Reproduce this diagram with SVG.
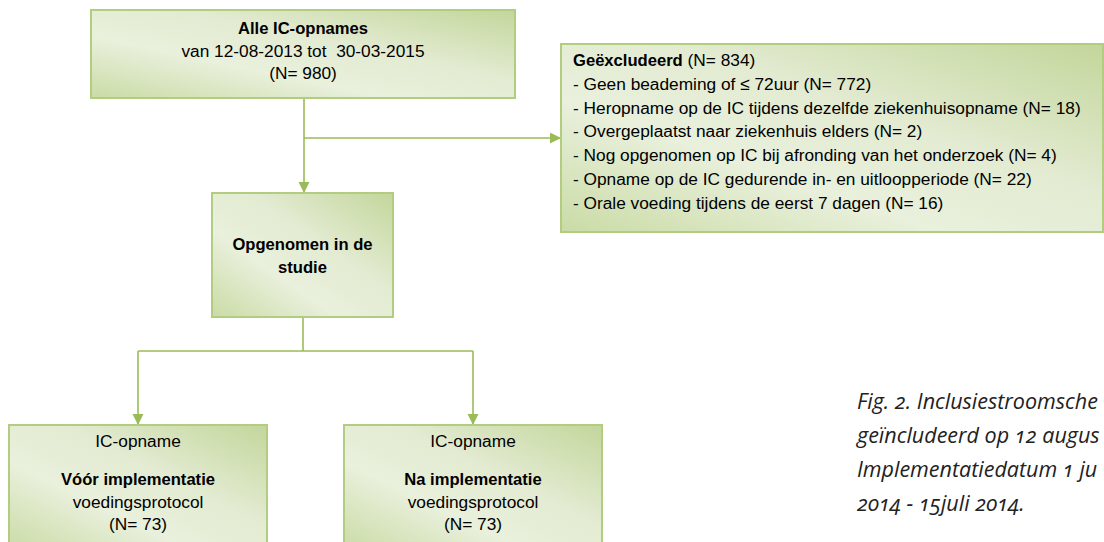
<svg xmlns="http://www.w3.org/2000/svg" width="1104" height="542" viewBox="0 0 1104 542">
<defs>
<linearGradient id="g" x1="0" y1="1" x2="1" y2="0">
<stop offset="0" stop-color="#cadba5"/>
<stop offset="0.35" stop-color="#e9f0dc"/>
<stop offset="0.6" stop-color="#e3ebd2"/>
<stop offset="1" stop-color="#c3d69b"/>
</linearGradient>
<marker id="ah" markerUnits="userSpaceOnUse" markerWidth="12" markerHeight="12" refX="11" refY="5.5" orient="auto">
<path d="M0,0 L11,5.5 L0,11 Z" fill="#9bbb59"/>
</marker>
<style>
.box{fill:url(#g);stroke:#b2cc80;stroke-width:2}
.t{font-family:"Liberation Sans",Arial,sans-serif;font-size:17.3px;fill:#000}
.b{font-weight:bold;font-size:16.6px}
.c{stroke:#9bbb59;stroke-width:1.6;fill:none}
.cap{font-family:"Open Sans","Liberation Sans",sans-serif;font-style:italic;font-size:21.5px;fill:#222;font-variant-numeric:oldstyle-nums}
</style>
</defs>
<g id="connectors">
<line class="c" x1="304" y1="98" x2="304" y2="193" marker-end="url(#ah)"/>
<line class="c" x1="304" y1="138" x2="561" y2="138" marker-end="url(#ah)"/>
<line class="c" x1="303" y1="317" x2="303" y2="351"/>
<line class="c" x1="138" y1="351" x2="473" y2="351"/>
<line class="c" x1="138" y1="351" x2="138" y2="425" marker-end="url(#ah)"/>
<line class="c" x1="473" y1="351" x2="473" y2="425" marker-end="url(#ah)"/>
</g>
<g id="alle">
<rect class="box" x="91" y="10" width="424" height="88"/>
<text class="t b" x="303" y="34" text-anchor="middle">Alle IC-opnames</text>
<text class="t" x="303" y="57" text-anchor="middle" xml:space="preserve">van 12-08-2013 tot  30-03-2015</text>
<text class="t" x="303" y="79" text-anchor="middle">(N= 980)</text>
</g>
<g id="excluded">
<rect class="box" x="561" y="44" width="542" height="188"/>
<text class="t" x="573" y="66"><tspan class="b">Geëxcludeerd</tspan> (N= 834)</text>
<text class="t" x="573" y="89.8">- Geen beademing of ≤ 72uur (N= 772)</text>
<text class="t" x="573" y="113.6">- Heropname op de IC tijdens dezelfde ziekenhuisopname (N= 18)</text>
<text class="t" x="573" y="137.4">- Overgeplaatst naar ziekenhuis elders (N= 2)</text>
<text class="t" x="573" y="161.2">- Nog opgenomen op IC bij afronding van het onderzoek (N= 4)</text>
<text class="t" x="573" y="185">- Opname op de IC gedurende in- en uitloopperiode (N= 22)</text>
<text class="t" x="573" y="208.8">- Orale voeding tijdens de eerst 7 dagen (N= 16)</text>
</g>
<g id="studie">
<rect class="box" x="212" y="193" width="181" height="124"/>
<text class="t b" x="302.5" y="250" text-anchor="middle">Opgenomen in de</text>
<text class="t b" x="302.5" y="273" text-anchor="middle">studie</text>
</g>
<g id="voor">
<rect class="box" x="9" y="425" width="258" height="125"/>
<text class="t" x="138" y="447" text-anchor="middle">IC-opname</text>
<text class="t b" x="138" y="485" text-anchor="middle">Vóór implementatie</text>
<text class="t" x="138" y="508" text-anchor="middle">voedingsprotocol</text>
<text class="t" x="138" y="530" text-anchor="middle">(N= 73)</text>
</g>
<g id="na">
<rect class="box" x="344" y="425" width="258" height="125"/>
<text class="t" x="473" y="447" text-anchor="middle">IC-opname</text>
<text class="t b" x="473" y="485" text-anchor="middle">Na implementatie</text>
<text class="t" x="473" y="508" text-anchor="middle">voedingsprotocol</text>
<text class="t" x="473" y="530" text-anchor="middle">(N= 73)</text>
</g>
<g id="caption">
<text class="cap" x="857" y="409">Fig. 2. Inclusiestroomsche</text>
<text class="cap" x="857" y="443">geïncludeerd op 12 augus</text>
<text class="cap" x="857" y="477">Implementatiedatum 1 ju</text>
<text class="cap" x="857" y="511">2014 - 15juli 2014.</text>
</g>
</svg>
